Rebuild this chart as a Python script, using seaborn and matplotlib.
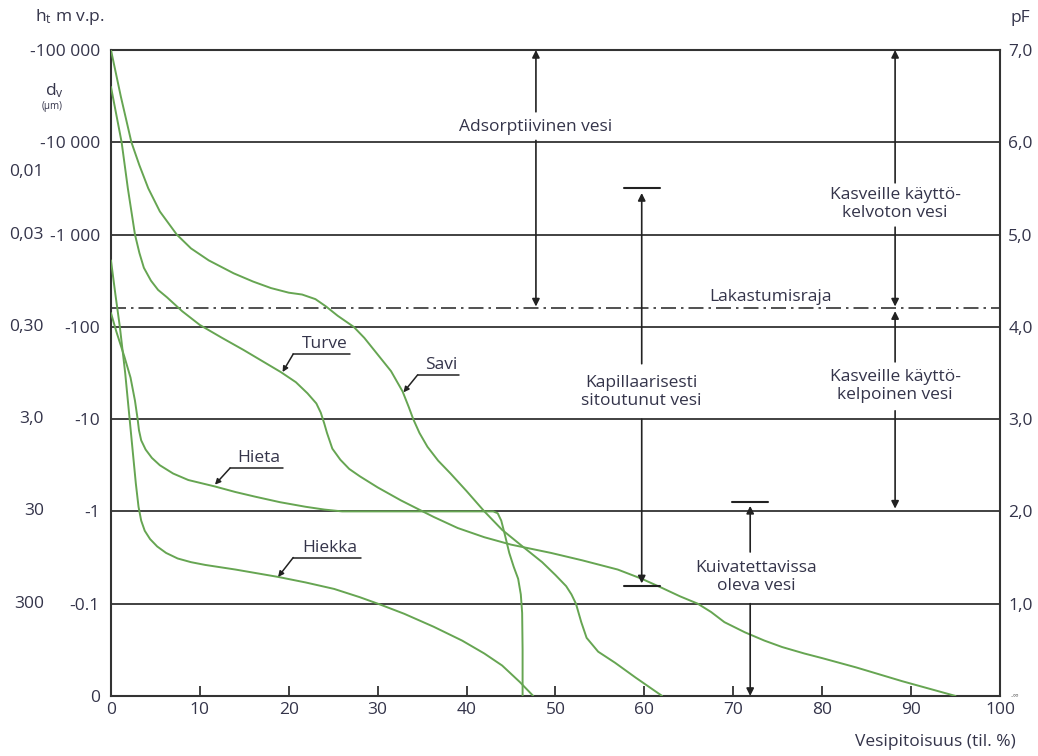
import numpy as np
import pandas as pd
import matplotlib
matplotlib.use('Agg')
import matplotlib.pyplot as plt
import seaborn as sns

# ---- data (water content %, pF) ----
savi_x = [0, 1.1, 2.3, 3.2, 4.2, 5.5, 7.4, 9, 11, 13.8, 16, 18, 20, 21.5, 23, 24.2, 25.5,
          27.3, 28.5, 30, 31.5, 32.8, 33.5, 34, 34.7, 35.6, 36.8, 38.2, 40, 42, 44, 46.3,
          48.5, 50, 51.2, 51.8, 52.3, 52.9, 53.5, 54.8, 56.7, 59, 62]
savi_pf = [7.0, 6.5, 6.0, 5.75, 5.5, 5.25, 5.0, 4.85, 4.72, 4.58, 4.49, 4.42, 4.37, 4.35,
           4.3, 4.22, 4.12, 4.0, 3.88, 3.7, 3.52, 3.3, 3.13, 3.0, 2.85, 2.7, 2.55, 2.41,
           2.22, 2.0, 1.8, 1.62, 1.45, 1.31, 1.19, 1.1, 1.0, 0.8, 0.63, 0.48, 0.36, 0.2, 0.0]

turve_x = [0, 0.6, 1.2, 1.9, 2.7, 3.2, 3.7, 4.5, 5.3, 6.3, 8, 10, 12.5, 14.9, 17, 19.1,
           20.8, 22.1, 23.1, 23.6, 24.0, 24.3, 24.9, 25.8, 26.8, 28, 30, 32.6, 36.3, 39,
           42, 45, 49.5, 53, 57, 59.7, 62, 64, 66, 67.5, 69, 71.3, 73.5, 75.5, 78, 80,
           83.8, 89, 95]
turve_pf = [6.6, 6.3, 6.0, 5.5, 5.0, 4.8, 4.64, 4.5, 4.4, 4.32, 4.17, 4.02, 3.88, 3.75,
            3.63, 3.51, 3.4, 3.28, 3.17, 3.07, 2.95, 2.85, 2.68, 2.56, 2.46, 2.38, 2.26,
            2.12, 1.94, 1.82, 1.72, 1.64, 1.55, 1.47, 1.37, 1.27, 1.17, 1.08, 1.0, 0.91,
            0.8, 0.69, 0.6, 0.53, 0.46, 0.41, 0.31, 0.16, 0.0]

hieta_x = [0, 0.6, 1.5, 2.2, 2.7, 3.0, 3.15, 3.4, 3.9, 4.6, 5.5, 7, 8.7, 11.7, 14, 16.2,
           19, 21.9, 24, 26, 30, 35, 40, 43, 43.5, 43.9, 44.3, 44.8, 45.3, 45.8, 46.1,
           46.25, 46.3, 46.3]
hieta_pf = [4.15, 3.95, 3.68, 3.45, 3.2, 3.0, 2.88, 2.77, 2.67, 2.58, 2.5, 2.41, 2.34, 2.27,
            2.21, 2.16, 2.1, 2.05, 2.02, 2.0, 2.0, 2.0, 2.0, 2.0, 1.98, 1.9, 1.75, 1.55,
            1.4, 1.27, 1.1, 0.9, 0.5, 0.0]

hiekka_x = [0, 0.5, 1.0, 1.6, 2.1, 2.5, 2.8, 3.1, 3.4, 3.8, 4.4, 5.2, 6.2, 7.5, 9, 10.6,
            14, 18.8, 21.9, 25.1, 28, 30.3, 33, 36.3, 39.5, 42, 44, 46, 47.5]
hiekka_pf = [4.72, 4.35, 4.0, 3.5, 3.0, 2.6, 2.3, 2.05, 1.9, 1.79, 1.7, 1.62, 1.55, 1.49,
             1.45, 1.42, 1.37, 1.29, 1.23, 1.16, 1.07, 0.99, 0.89, 0.75, 0.6, 0.46, 0.33,
             0.15, 0.0]

pf_ticks = [0, 1, 2, 3, 4, 5, 6, 7]
head_labels = ['0', '-0.1', '-1', '-10', '-100', '-1 000', '-10 000', '-100 000']
pf_labels = ['', '1,0', '2,0', '3,0', '4,0', '5,0', '6,0', '7,0']
dv_pf = [1, 2, 3, 4, 5, 5.68]
dv_labels = ['300', '30', '3,0', '0,30', '0,03', '0,01']
x_ticks = [0, 10, 20, 30, 40, 50, 60, 70, 80, 90, 100]
wilting_pf = 4.2

frames = []
for name, xs, ys in [('Savi', savi_x, savi_pf), ('Turve', turve_x, turve_pf),
                     ('Hieta', hieta_x, hieta_pf), ('Hiekka', hiekka_x, hiekka_pf)]:
    frames.append(pd.DataFrame({'soil': name, 'water': xs, 'pF': ys}))
df = pd.concat(frames, ignore_index=True)

sns.set_theme(style='white')
plt.rcParams['font.family'] = ['Open Sans', 'DejaVu Sans']
plt.rcParams['mathtext.default'] = 'regular'

GREEN = '#66a552'
DARK = '#333333'
TXT = '#34344a'
FS = 12.5

fig = plt.figure(figsize=(10.38, 7.56), dpi=100)
ax = fig.add_axes([0.1069, 0.0794, 0.8565, 0.8545])

# horizontal reference lines
for p in pf_ticks[1:-1]:
    ax.axhline(p, color=DARK, lw=1.3, zorder=1)
ax.axhline(wilting_pf, color=DARK, lw=1.2, ls=(0, (9, 3, 1.5, 3)), zorder=1)

sns.lineplot(data=df, x='water', y='pF', units='soil', estimator=None, sort=False,
             color=GREEN, lw=1.4, ax=ax, zorder=3, solid_joinstyle='round',
             solid_capstyle='round')

ax.set_xlim(0, 100)
ax.set_ylim(0, 7)
ax.set_xlabel('')
ax.set_ylabel('')
for s in ax.spines.values():
    s.set_color(DARK)
    s.set_linewidth(1.5)

ax.set_xticks(x_ticks)
ax.set_xticklabels([str(t) for t in x_ticks], color=TXT, fontsize=FS)
ax.tick_params(axis='x', direction='in', length=7, width=1.3, color=DARK, pad=4, bottom=True)
ax.set_yticks(pf_ticks)
ax.set_yticklabels(head_labels, color=TXT, fontsize=FS)
ax.tick_params(axis='y', length=0, pad=8)

ax2 = ax.twinx()
ax2.set_ylim(0, 7)
ax2.set_yticks(pf_ticks)
ax2.set_yticklabels(pf_labels, color=TXT, fontsize=FS)
ax2.tick_params(axis='y', length=0, pad=6)
ax2.grid(False)
for s in ax2.spines.values():
    s.set_visible(False)
ax2.text(1.012, 0.0, '-\u221e', transform=ax2.transAxes, fontsize=6, color='#777777',
         ha='left', va='center')

# d_v column
for p, lab in zip(dv_pf, dv_labels):
    ax.annotate(lab, xy=(0, p), xycoords=('axes fraction', 'data'), xytext=(-67, 0),
                textcoords='offset pixels', ha='right', va='center', color=TXT, fontsize=FS)

fig.text(0.067, 0.978, 'h$_t$ m v.p.', ha='center', va='center', color=TXT, fontsize=FS)
fig.text(0.052, 0.880, 'd$_v$', ha='center', va='center', color=TXT, fontsize=FS)
fig.text(0.050, 0.859, '(\u03bcm)', ha='center', va='center', color=TXT, fontsize=7)
fig.text(0.983, 0.976, 'pF', ha='center', va='center', color=TXT, fontsize=FS)
fig.text(0.979, 0.018, 'Vesipitoisuus (til. %)', ha='right', va='center', color=TXT, fontsize=FS)

# arrows
def arrow(x, y_from, y_to):
    ax.annotate('', xy=(x, y_to), xytext=(x, y_from),
                arrowprops=dict(arrowstyle='-|>', color='#222222', lw=1.2,
                                mutation_scale=11, shrinkA=0, shrinkB=0), zorder=4)

def tbar(x, y, half=2.0):
    ax.plot([x - half, x + half], [y, y], color='#222222', lw=1.5, zorder=4)

# Adsorptiivinen vesi
arrow(47.8, 6.33, 7.0)
arrow(47.8, 6.02, 4.22)
ax.text(47.8, 6.17, 'Adsorptiivinen vesi', ha='center', va='center', color=TXT, fontsize=FS)

# Kapillaarisesti sitoutunut vesi
tbar(59.7, 5.5)
arrow(59.7, 3.6, 5.45)
arrow(59.7, 3.0, 1.22)
tbar(59.7, 1.19)
ax.text(59.7, 3.29, 'Kapillaarisesti\nsitoutunut vesi', ha='center', va='center',
        color=TXT, fontsize=FS, linespacing=1.15)

# Kuivatettavissa oleva vesi
tbar(71.9, 2.1)
arrow(71.9, 1.56, 2.06)
arrow(71.9, 1.0, 0.0)
ax.text(72.6, 1.29, 'Kuivatettavissa\noleva vesi', ha='center', va='center',
        color=TXT, fontsize=FS, linespacing=1.15)

# Kasveille kayttokelvoton vesi
arrow(88.2, 5.56, 7.0)
arrow(88.2, 5.08, 4.22)
ax.text(88.2, 5.33, 'Kasveille käyttö-\nkelvoton vesi', ha='center', va='center',
        color=TXT, fontsize=FS, linespacing=1.15)

# Kasveille kayttokelpoinen vesi
arrow(88.2, 3.62, 4.17)
arrow(88.2, 3.09, 2.03)
ax.text(88.2, 3.36, 'Kasveille käyttö-\nkelpoinen vesi', ha='center', va='center',
        color=TXT, fontsize=FS, linespacing=1.15)

# Lakastumisraja
ax.text(74.2, 4.24, 'Lakastumisraja', ha='center', va='bottom', color=TXT, fontsize=FS)

# curve labels with underline and pointer
def curve_label(text, x0, x1, y, px, py):
    ax.plot([x0, x1], [y, y], color='#222222', lw=1.1, zorder=4)
    ax.annotate('', xy=(px, py), xytext=(x0, y),
                arrowprops=dict(arrowstyle='-|>', color='#222222', lw=1.1,
                                mutation_scale=8, shrinkA=0, shrinkB=0), zorder=4)
    ax.text((x0 + x1) / 2 + 0.3, y + 0.02, text, ha='center', va='bottom',
            color=TXT, fontsize=FS)

curve_label('Turve', 20.5, 26.9, 3.705, 19.3, 3.51)
curve_label('Savi', 34.5, 39.1, 3.48, 32.9, 3.29)
curve_label('Hieta', 13.4, 19.3, 2.47, 11.7, 2.29)
curve_label('Hiekka', 20.5, 28.1, 1.50, 18.8, 1.29)

fig.savefig('out.png', dpi=100)
